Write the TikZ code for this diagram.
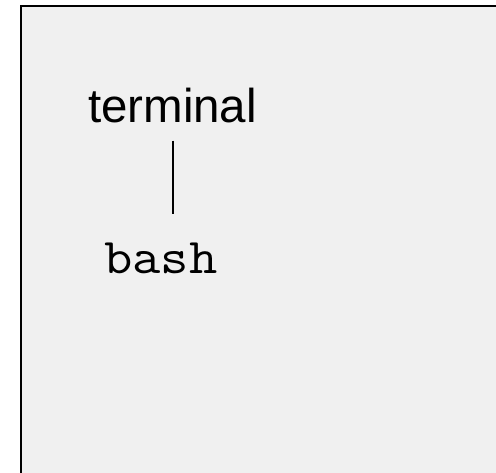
\documentclass[tikz,border=0pt]{standalone}
\usepackage{fontspec}
\setmainfont{Liberation Sans}
\usepackage{tikz}
\usetikzlibrary{calc}

\definecolor{panelgray}{HTML}{F0F0F0}

\begin{document}
\begin{tikzpicture}[x=1pt,y=-1pt,
        label/.style={inner sep=0pt,anchor=base,font=\fontsize{47.5}{50}\selectfont},
        cmd/.style={inner sep=0pt,anchor=base,xscale=1.1,transform shape,font=\ttfamily\fontsize{50}{54}\selectfont}]
        \useasboundingbox (0,0) rectangle (496,472);
        \clip (0,0) rectangle (496,472);
        \draw[line width=2.2pt,fill=panelgray](21,6) rectangle (540,520);
        \node[label] (term) at (172.5,122) {terminal};
        \node[cmd] (bash) at (161,273) {bash};
        \draw[line width=2pt,shorten <=18pt,shorten >=28pt](term.south)--(term.south |- bash.north);
    \end{tikzpicture}
\end{document}
